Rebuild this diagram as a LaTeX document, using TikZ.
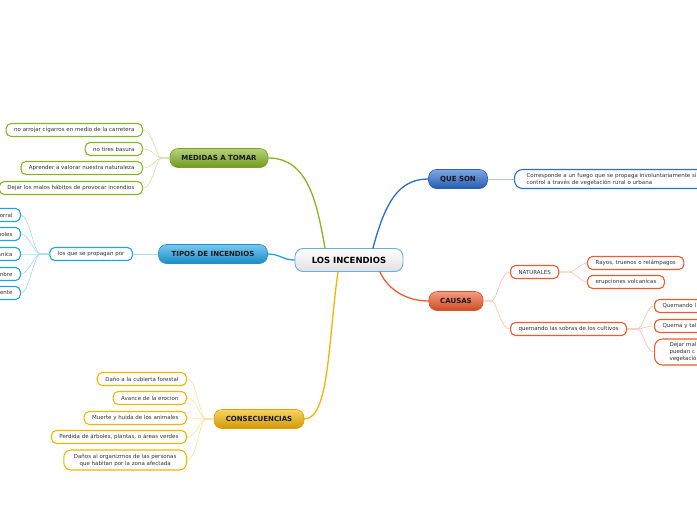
\documentclass[tikz,border=0pt]{standalone}
\usepackage{fontspec}
\setmainfont{DejaVu Sans}
\definecolor{verde}{HTML}{86B522}
\definecolor{azul}{HTML}{2A6CCF}
\definecolor{celeste}{HTML}{1FA3E6}
\definecolor{amarillo}{HTML}{F5B400}
\definecolor{naranja}{HTML}{EE5A2A}
\definecolor{borde}{HTML}{6AAEE0}
\tikzset{
  topic/.style={draw=#1!90!black, line width=0.6pt, top color=#1!60!white, bottom color=#1!85!black, rounded corners=8pt, minimum height=19pt, inner xsep=8pt, font=\bfseries\fontsize{7}{8}\selectfont, text=black!90},
  leaf/.style={draw=#1, line width=1.1pt, fill=white, rounded corners=5pt, minimum height=13pt, inner xsep=8pt, inner ysep=1.5pt, font=\fontsize{5.5}{7}\selectfont, text=black!80},
  link/.style={draw=#1!40, line width=0.6pt},
  branch/.style={draw=#1, line width=1.3pt}
}
\begin{document}
\begin{tikzpicture}[x=1pt,y=-1pt, line cap=round, line join=round]
	\useasboundingbox (0,0) rectangle (697,520);
	\clip (0,0) rectangle (697,520);
	\node[draw=borde, line width=0.9pt, top color=white, bottom color=black!12, rounded corners=8pt, minimum width=108pt, minimum height=23pt, font=\bfseries\fontsize{8.5}{10}\selectfont] (ctr) at (349,260) {LOS INCENDIOS};
	% ramas principales
	\node[topic=verde, minimum width=98pt] (med) at (219,158) {MEDIDAS A TOMAR};
	\node[topic=celeste, minimum width=109pt] (tip) at (213,254) {TIPOS DE INCENDIOS};
	\node[topic=azul, minimum width=59pt] (qs) at (458,179) {QUE SON};
	\node[topic=amarillo, minimum width=90pt] (cons) at (259,419) {CONSECUENCIAS};
	\node[topic=naranja, minimum width=54pt] (cau) at (456,301) {CAUSAS};
	\draw[branch=verde] ([xshift=-24pt]ctr.north) .. controls +(-8,-45) and +(40,0) .. (med.east);
	\draw[branch=azul] ([xshift=24pt]ctr.north) .. controls +(12,-45) and +(-30,0) .. (qs.west);
	\draw[branch=celeste] (ctr.west) .. controls +(-12,0) and +(12,0) .. (tip.east);
	\draw[branch=amarillo] ([xshift=-11pt]ctr.south) .. controls +(-10,70) and +(25,0) .. (cons.east);
	\draw[branch=naranja] ([xshift=31pt]ctr.south) .. controls +(8,18) and +(-22,0) .. (cau.west);
	% medidas
	\node[leaf=verde, anchor=east] (m1) at (143,130) {no arrojar cigarros en medio de la carretera};
	\node[leaf=verde, anchor=east] (m2) at (143,149) {no tires basura};
	\node[leaf=verde, anchor=east] (m3) at (143,168) {Aprender a valorar nuestra naturaleza};
	\node[leaf=verde, anchor=east] (m4) at (143,188) {Dejar los malos hábitos de provocar incendios};
	\foreach \n in {m1,m2,m3,m4}
		\draw[link=verde] (med.west) -- ++(-8,0) .. controls +(-6,0) and +(10,0) .. (\n.east);
	% tipos
	\node[leaf=celeste, anchor=east] (prop) at (133,254) {los que se propagan por};
	\draw[link=celeste] (tip.west) -- (prop.east);
	\node[leaf=celeste, anchor=east, text width=44pt, align=right] (t1) at (21,215) {orral};
	\node[leaf=celeste, anchor=east, text width=44pt, align=right] (t2) at (21,234) {boles};
	\node[leaf=celeste, anchor=east, text width=44pt, align=right] (t3) at (21,254) {anica};
	\node[leaf=celeste, anchor=east, text width=44pt, align=right] (t4) at (21,274) {mbre};
	\node[leaf=celeste, anchor=east, text width=44pt, align=right] (t5) at (21,293) {ente};
	\foreach \n in {t1,t2,t3,t4,t5}
		\draw[link=celeste] (prop.west) -- ++(-9,0) .. controls +(-6,0) and +(8,0) .. (\n.east);
	% que son
	\node[leaf=azul, anchor=west, minimum height=19pt, rounded corners=8pt, inner xsep=12pt, text width=240pt, align=left] (def) at (514,179) {Corresponde a un fuego que se propaga involuntariamente si\\control a través de vegetación rural o urbana};
	\draw[link=azul] (qs.east) -- (def.west);
	% consecuencias
	\node[leaf=amarillo, anchor=east] (c1) at (187,379) {Daño a la cubierta forestal};
	\node[leaf=amarillo, anchor=east] (c2) at (187,398) {Avance de la erocion};
	\node[leaf=amarillo, anchor=east] (c3) at (187,418) {Muerte y huida de los animales};
	\node[leaf=amarillo, anchor=east] (c4) at (187,437) {Perdida de árboles, plantas, o áreas verdes};
	\node[leaf=amarillo, anchor=east, align=center, minimum height=20pt, rounded corners=7pt, inner xsep=10pt] (c5) at (187,460) {Daños al organizmos de las personas\\que habitan por la zona afectada};
	\foreach \n in {c1,c2,c3,c4,c5}
		\draw[link=amarillo] (cons.west) -- ++(-8,0) .. controls +(-6,0) and +(10,0) .. (\n.east);
	% causas
	\node[leaf=naranja, anchor=west] (nat) at (510,272) {NATURALES};
	\node[leaf=naranja, anchor=west] (quem) at (510,329) {quemando las sobras de los cultivos};
	\foreach \n in {nat,quem}
		\draw[link=naranja] (cau.east) -- ++(8,0) .. controls +(6,0) and +(-10,0) .. (\n.west);
	\node[leaf=naranja, anchor=west] (n1) at (587,263) {Rayos, truenos o relámpagos};
	\node[leaf=naranja, anchor=west] (n2) at (587,282) {erupciones volcanicas};
	\foreach \n in {n1,n2}
		\draw[link=naranja] (nat.east) -- ++(10,0) .. controls +(5,0) and +(-6,0) .. (\n.west);
	\node[leaf=naranja, anchor=west, text width=60pt, align=left] (q1) at (654,306) {Quemando l};
	\node[leaf=naranja, anchor=west, text width=60pt, align=left] (q2) at (654,326) {Quema y tal};
	\node[leaf=naranja, anchor=west, text width=60pt, align=left, minimum height=26pt, rounded corners=8pt, inner xsep=15pt] (q3) at (654,352) {Dejar mal\\ puedan c\\vegetació};
	\foreach \n in {q1,q2,q3}
		\draw[link=naranja] (quem.east) -- ++(10,0) .. controls +(6,0) and +(-8,0) .. (\n.west);
\end{tikzpicture}
\end{document}
